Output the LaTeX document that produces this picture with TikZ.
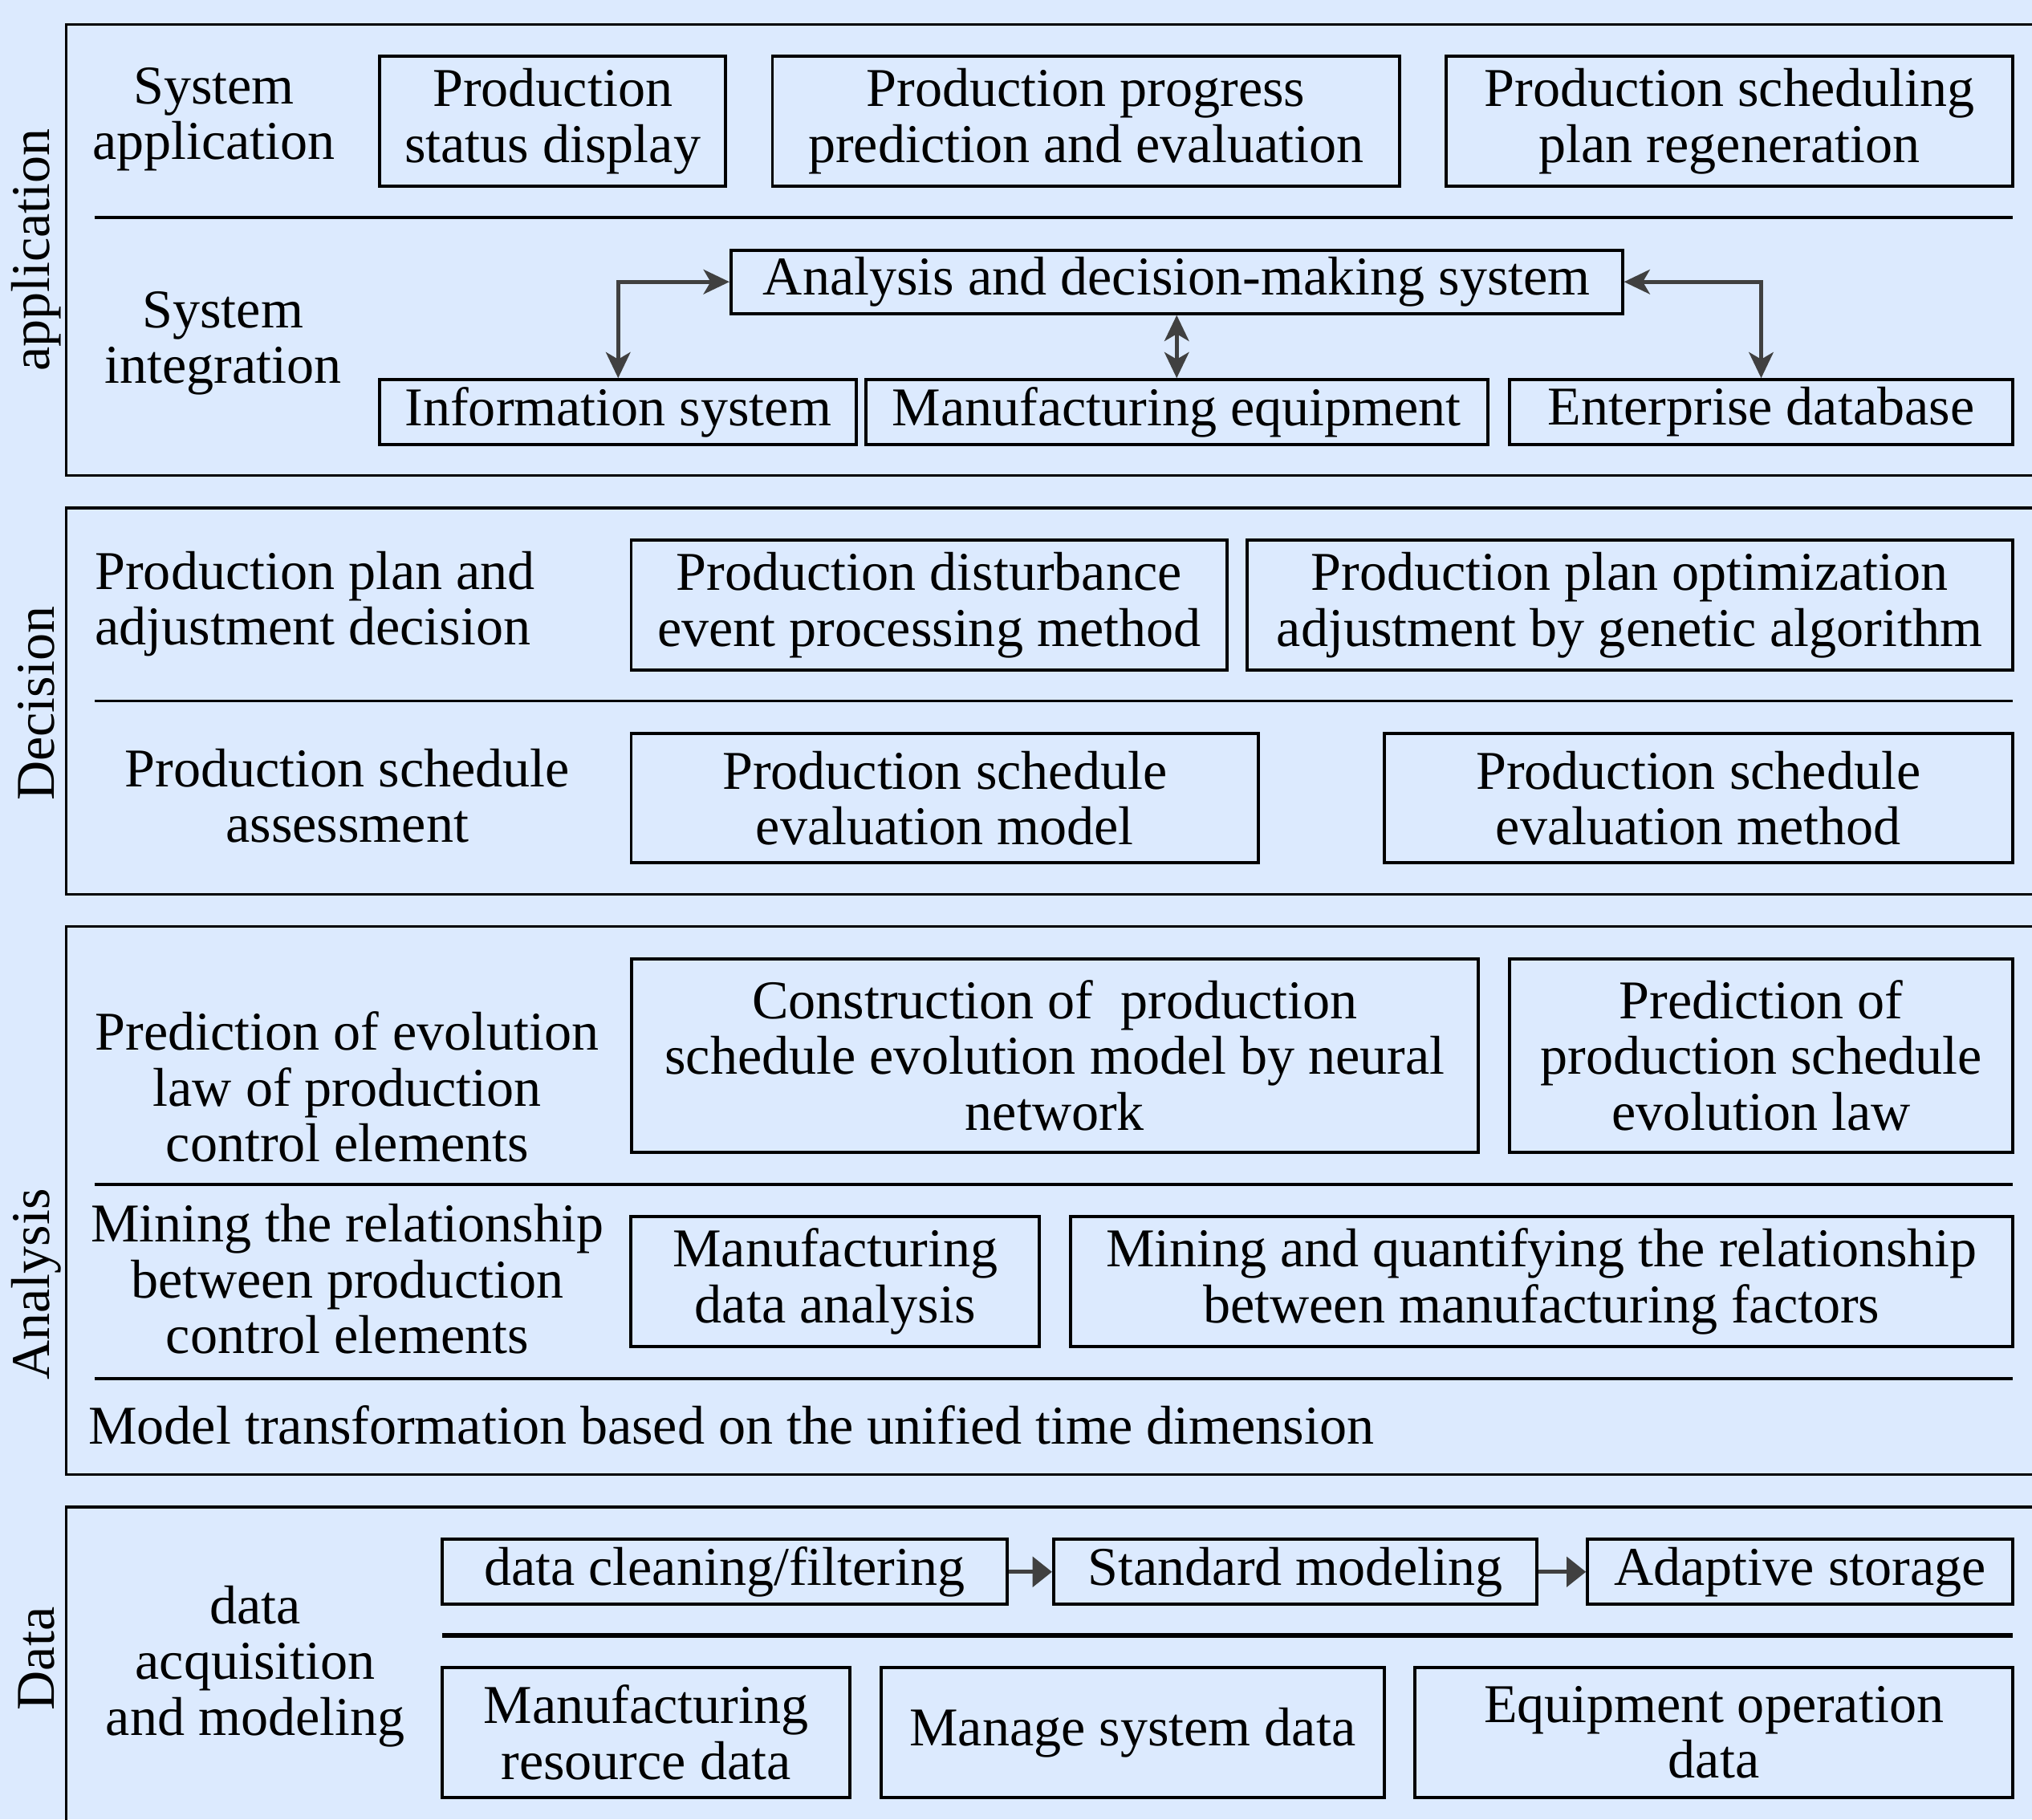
\documentclass[tikz,border=0pt]{standalone}
\usepackage{fontspec}
\setmainfont{Liberation Serif}
\usepackage{xcolor}
\usetikzlibrary{arrows.meta}
\definecolor{bgblue}{RGB}{220,234,254}
\definecolor{arrgray}{RGB}{64,64,64}

\begin{document}
\begin{tikzpicture}[
  x=0.02cm, y=-0.02cm,
  font=\fontsize{24}{24.5}\selectfont,
  box/.style={draw, line width=1.4pt, align=center, inner sep=0pt},
  tall/.style={minimum height=2cm},
  flat/.style={minimum height=1cm},
  lbl/.style={align=center, inner sep=0pt},
  frame/.style={line width=1.2pt},
  sep/.style={line width=1.3pt},
  arr/.style={{Stealth[length=4mm,width=3.8mm,inset=1.1mm]}-{Stealth[length=4mm,width=3.8mm,inset=1.1mm]},
              draw=arrgray, line width=1.6pt},
  flow/.style={-{Triangle[length=3mm,width=4.6mm]}, draw=arrgray, line width=1.8pt}]
\fill[bgblue] (0,0) rectangle (1568,1404);
\useasboundingbox (0,0) rectangle (1568,1404);

\draw[frame] (1590,19) -- (51,19) -- (51,367) -- (1590,367);
\draw[frame] (1590,392) -- (51,392) -- (51,690) -- (1590,690);
\draw[frame] (1590,715) -- (51,715) -- (51,1138) -- (1590,1138);
\draw[frame] (1590,1163) -- (51,1163) -- (51,1420);
\foreach \y in {168,541,914,1064}
  \draw[sep] (73,\y) -- (1553,\y);
\draw[line width=2pt] (341,1262) -- (1553,1262);

\node[rotate=90] (lapp) at (28,193) {application};
\node[rotate=90] (ldec) at (28,543) {Decision};
\node[rotate=90] (lana) at (28,991) {Analysis};
\node[rotate=90] (ldat) at (28,1280) {Data};

\node[lbl] (sysapp) at (165,92) {System\\application};
\node[box, tall, minimum width=5.34cm] (status) at (426.5,93.5) {Production\\status display};
\node[box, tall, minimum width=9.68cm] (progress) at (838,93.5) {Production progress\\prediction and evaluation};
\node[box, tall, minimum width=8.74cm] (regen) at (1334.5,93.5) {Production scheduling\\plan regeneration};

\node[lbl] (sysint) at (172,265) {System\\integration};
\node[box, minimum height=0.98cm, minimum width=13.76cm] (ads) at (908,217.5) {Analysis and decision-making system};
\node[box, flat, minimum width=7.36cm] (info) at (477,318) {Information system};
\node[box, flat, minimum width=9.6cm] (equip) at (908,318) {Manufacturing equipment};
\node[box, flat, minimum width=7.76cm] (entdb) at (1359,318) {Enterprise database};
\draw[arr] (info.north) |- (ads.west);
\draw[arr] (ads.south) -- (equip.north);
\draw[arr] (ads.east) -| (entdb.north);

\node[lbl, align=left, anchor=west] (plandec) at (73,466) {Production plan and\\adjustment decision};
\node[box, tall, minimum width=9.2cm] (disturb) at (717,467) {Production disturbance\\event processing method};
\node[box, tall, minimum width=11.82cm] (genetic) at (1257.5,467) {Production plan optimization\\adjustment by genetic algorithm};

\node[lbl] (assess) at (268,614) {Production schedule\\assessment};
\node[box, tall, minimum width=9.68cm] (evmodel) at (729,616) {Production schedule\\evaluation model};
\node[box, tall, minimum width=9.7cm] (evmethod) at (1310.5,616) {Production schedule\\evaluation method};

\node[lbl] (evolaw) at (268,839) {Prediction of evolution\\law of production\\control elements};
\node[box, minimum height=2.98cm, minimum width=13.08cm] (neural) at (814,814.5) {Construction of~ production\\schedule evolution model by neural\\network};
\node[box, minimum height=2.98cm, minimum width=7.76cm] (predlaw) at (1359,814.5) {Prediction of\\production schedule\\evolution law};

\node[lbl] (mining) at (268,987) {Mining the relationship\\between production\\control elements};
\node[box, tall, minimum width=6.3cm] (mfgdata) at (644.5,989) {Manufacturing\\data analysis};
\node[box, tall, minimum width=14.54cm] (quantify) at (1189.5,989) {Mining and quantifying the relationship\\between manufacturing factors};

\node[lbl, anchor=west] (unified) at (68,1100) {Model transformation based on the unified time dimension};

\node[lbl] (acq) at (197,1286) {data\\acquisition\\and modeling};
\node[box, flat, minimum width=8.72cm] (clean) at (559,1213) {data cleaning/filtering};
\node[box, flat, minimum width=7.46cm] (stdmod) at (999.5,1213) {Standard modeling};
\node[box, flat, minimum width=6.56cm] (store) at (1389,1213) {Adaptive storage};
\foreach \a/\b in {clean/stdmod,stdmod/store}
  \draw[flow] (\a) -- (\b);

\node[box, tall, minimum width=6.3cm] (resdata) at (498.5,1337) {Manufacturing\\resource data};
\node[box, tall, minimum width=7.76cm] (mgmt) at (874,1337) {Manage system data};
\node[box, tall, minimum width=9.22cm] (eqop) at (1322.5,1337) {Equipment operation\\data};
\end{tikzpicture}
\end{document}
